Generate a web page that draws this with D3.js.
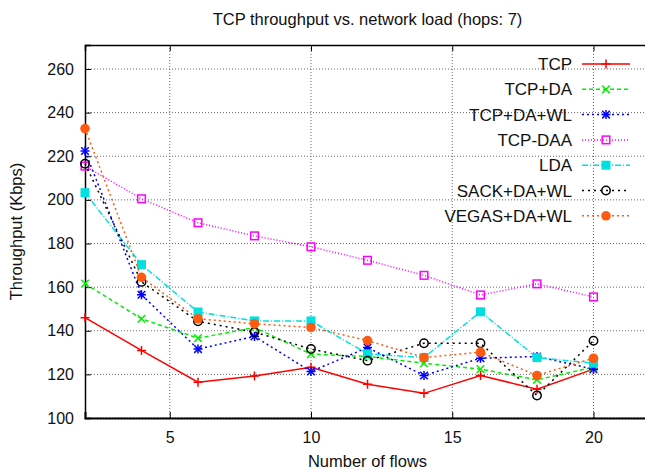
<!DOCTYPE html>
<head>
  <meta charset="utf-8">
  <script src="https://d3js.org/d3.v7.min.js"></script>
  <style>
    body { margin: 0; background: #fff; }
    text { font-family: "Liberation Sans", Arial, sans-serif; fill: #111; }
  </style>
</head>
<body>
  <div id="graph"></div>
  <script>
    // data
    var flows = [2, 4, 6, 8, 10, 12, 14, 16, 18, 20];
    var tcp = [146, 131, 116.4, 119.3, 123.3, 115.5, 111.3, 119.5, 113.2, 122.4];
    var tcpDa = [161.6, 145.5, 136.6, 141.5, 129.3, 128.2, 125.1, 122.4, 117.5, 123.3];
    var tcpDaWl = [222.4, 156.5, 131.6, 137.4, 121.3, 132.3, 119.5, 127.4, 128.2, 122.4];
    var tcpDaa = [215.5, 200.5, 189.5, 183.5, 178.5, 172.3, 165.4, 156.4, 161.5, 155.5];
    var lda = [203.3, 170.3, 148.6, 144.5, 144.5, 129.4, 127.7, 148.7, 127.7, 125.1];
    var sackDaWl = [216.6, 162.4, 144.3, 139.4, 131.6, 126.3, 134.3, 134.3, 110.3, 135.4];
    var vegasDaWl = [232.7, 164.5, 145.5, 143.2, 141.5, 135.5, 127.7, 130.2, 119.5, 127.4];

    var xTicks = [5, 10, 15, 20];
    var yTicks = [100, 120, 140, 160, 180, 200, 220, 240, 260];

    var series = [
      { name: "TCP", values: tcp, color: "#ff0000", dash: null, marker: "plus" },
      { name: "TCP+DA", values: tcpDa, color: "#00ee00", dash: "4,3", marker: "cross" },
      { name: "TCP+DA+WL", values: tcpDaWl, color: "#0000ff", dash: "2,3", marker: "star" },
      { name: "TCP-DAA", values: tcpDaa, color: "#ff00ff", dash: "1,2", marker: "square" },
      { name: "LDA", values: lda, color: "#00e0e0", dash: "6,2,1,2", marker: "fsquare" },
      { name: "SACK+DA+WL", values: sackDaWl, color: "#000000", dash: "2,4", marker: "circle" },
      { name: "VEGAS+DA+WL", values: vegasDaWl, color: "#ff5a10", dash: "2,3", marker: "fcircle" }
    ];

    var width = 645;
    var height = 470;
    var svg = d3.select("#graph").append("svg")
      .attr("width", width)
      .attr("height", height);

    var xmin = 85, xmax = 650, ytop = 45, ybot = 418;

    var x = d3.scaleLinear().domain([2, 22]).range([xmin, xmax]);
    var y = d3.scaleLinear().domain([100, 271]).range([ybot, ytop]);

    // grid
    var grid = svg.append("g").attr("class", "grid");
    grid.selectAll(".gx").data(xTicks).enter().append("line")
      .attr("x1", d => x(d)).attr("x2", d => x(d))
      .attr("y1", ybot).attr("y2", ytop)
      .attr("stroke", "#666").attr("stroke-width", 1).attr("stroke-dasharray", "1,2");
    grid.selectAll(".gy").data(yTicks).enter().append("line")
      .attr("x1", xmin).attr("x2", xmax)
      .attr("y1", d => y(d)).attr("y2", d => y(d))
      .attr("stroke", "#666").attr("stroke-width", 1).attr("stroke-dasharray", "1,2");

    // axes (gnuplot style inward ticks)
    var xAxis = d3.axisBottom(x).tickValues(xTicks).tickSize(-6).tickPadding(14);
    var yAxis = d3.axisLeft(y).tickValues(yTicks).tickSize(-6).tickPadding(11);
    var xTop = d3.axisTop(x).tickValues(xTicks).tickSize(-6).tickFormat("");

    var gx = svg.append("g")
      .attr("transform", "translate(0," + ybot + ")")
      .call(xAxis);
    var gy = svg.append("g")
      .attr("transform", "translate(" + xmin + ",0)")
      .call(yAxis);
    var gt = svg.append("g")
      .attr("transform", "translate(0," + ytop + ")")
      .call(xTop);

    [gx, gy, gt].forEach(function(g) {
      g.select(".domain").attr("stroke", "#000").attr("stroke-width", 1.5);
      g.selectAll(".tick line").attr("stroke", "#000").attr("stroke-width", 1);
      g.selectAll(".tick text").attr("font-size", 16).attr("fill", "#111")
        .style("font-family", "'Liberation Sans', Arial, sans-serif");
    });
    gx.select(".domain").attr("stroke-width", 2);

    // labels
    svg.append("text").attr("x", (xmin + xmax) / 2).attr("y", 25)
      .attr("text-anchor", "middle").attr("font-size", 16.5)
      .text("TCP throughput vs. network load (hops: 7)");
    svg.append("text").attr("x", (xmin + xmax) / 2).attr("y", 467)
      .attr("text-anchor", "middle").attr("font-size", 16.5)
      .text("Number of flows");
    svg.append("text")
      .attr("transform", "translate(22," + (ytop + ybot) / 2 + ") rotate(-90)")
      .attr("text-anchor", "middle").attr("font-size", 16.5)
      .text("Throughput (Kbps)");

    // marker drawing
    function drawMarker(g, type, cx, cy, color) {
      var s = 4.5;
      if (type == "plus" || type == "star") {
        g.append("path").attr("d", "M" + (cx - s) + "," + cy + "H" + (cx + s) + "M" + cx + "," + (cy - s) + "V" + (cy + s))
          .attr("stroke", color).attr("stroke-width", 1.5).attr("fill", "none");
      }
      if (type == "cross" || type == "star") {
        var c = 3.8;
        g.append("path").attr("d", "M" + (cx - c) + "," + (cy - c) + "L" + (cx + c) + "," + (cy + c) + "M" + (cx - c) + "," + (cy + c) + "L" + (cx + c) + "," + (cy - c))
          .attr("stroke", color).attr("stroke-width", 1.5).attr("fill", "none");
      }
      if (type == "square") {
        g.append("rect").attr("x", cx - 3.8).attr("y", cy - 3.8).attr("width", 7.6).attr("height", 7.6)
          .attr("stroke", color).attr("stroke-width", 1.5).attr("fill", "none");
      }
      if (type == "fsquare") {
        g.append("rect").attr("x", cx - 4.5).attr("y", cy - 4.5).attr("width", 9).attr("height", 9)
          .attr("fill", color);
      }
      if (type == "circle") {
        g.append("circle").attr("cx", cx).attr("cy", cy).attr("r", 4.2)
          .attr("stroke", color).attr("stroke-width", 1.5).attr("fill", "none");
      }
      if (type == "fcircle") {
        g.append("circle").attr("cx", cx).attr("cy", cy).attr("r", 4.8)
          .attr("fill", color);
      }
    }

    var line = d3.line()
      .x((d, i) => x(flows[i]))
      .y(d => y(d));

    var gLines = svg.append("g").attr("id", "lines");
    series.forEach(function(s) {
      gLines.append("path")
        .datum(s.values)
        .attr("d", line)
        .attr("fill", "none")
        .attr("stroke", s.color)
        .attr("stroke-width", 1.5)
        .attr("stroke-dasharray", s.dash);
      var gm = gLines.append("g");
      s.values.forEach(function(v, i) {
        drawMarker(gm, s.marker, x(flows[i]), y(v), s.color);
      });
    });

    // legend
    var legend = svg.append("g").attr("class", "legend");
    series.forEach(function(s, i) {
      var ly = 64 + i * 25.3;
      legend.append("text").attr("x", 572).attr("y", ly + 6)
        .attr("text-anchor", "end").attr("font-size", 17)
        .text(s.name);
      legend.append("line").attr("x1", 582).attr("x2", 630)
        .attr("y1", ly).attr("y2", ly)
        .attr("stroke", s.color).attr("stroke-width", 1.5)
        .attr("stroke-dasharray", s.dash);
      drawMarker(legend, s.marker, 606, ly, s.color);
    });
  </script>
</body>
